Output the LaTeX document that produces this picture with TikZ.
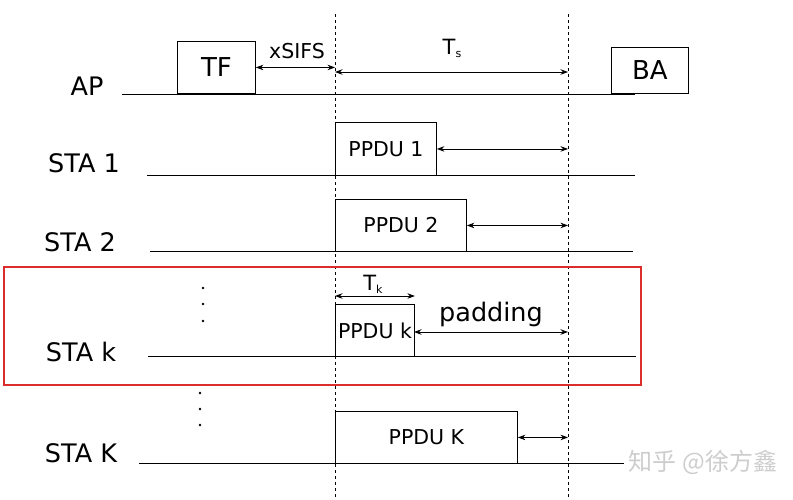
\documentclass[tikz,border=0pt]{standalone}
\usepackage{fontspec}
\setmainfont{DejaVu Sans}
\newfontfamily\cjk{Noto Sans CJK SC}
\usetikzlibrary{arrows.meta}
\definecolor{hlred}{RGB}{220,45,45}
\definecolor{wm}{RGB}{205,205,205}
\begin{document}
\begin{tikzpicture}[x=1pt,y=-1pt,
  lbl/.style={font=\fontsize{25.5}{27}\selectfont, inner sep=0},
  frame/.style={draw, line width=0.9pt, inner sep=0, anchor=north west},
  ppdu/.style={frame, font=\fontsize{20.5}{22}\selectfont},
  dim/.style={line width=0.8pt, {Stealth[length=7.5pt,width=5.5pt]}-{Stealth[length=7.5pt,width=5.5pt]}},
  vdash/.style={line width=0.8pt, dash pattern=on 3pt off 3pt},
  axis/.style={line width=0.9pt},
  dot/.style={circle, fill, inner sep=0, minimum size=2.6pt}]
\useasboundingbox (0,0) rectangle (793,499);
% vertical dashed reference lines
\coordinate (v1t) at (335,14);
\coordinate (v1b) at (335,499);
\coordinate (v2t) at (568,14);
\coordinate (v2b) at (568,499);
\draw[vdash] (v1t) -- (v1b);
\draw[vdash] (v2t) -- (v2b);
% AP row
\node[lbl] (ap) at (87,86) {AP};
\coordinate (apL) at (122,94);
\coordinate (apR) at (635,94);
\draw[axis] (apL) -- (apR);
\node[frame, minimum width=78pt, minimum height=52pt, font=\fontsize{26}{27}\selectfont] (tf) at (177,41) {TF};
\node[frame, minimum width=77pt, minimum height=46pt, font=\fontsize{26}{27}\selectfont] (ba) at (611,47) {BA};
\draw[dim] (tf.east) -- (tf.east -| v1t);
\node[font=\fontsize{20.5}{22}\selectfont, inner sep=0] (xs) at (297,51) {xSIFS};
\coordinate (tsL) at (335,72);
\draw[dim] (tsL) -- (tsL -| v2t);
\node[font=\fontsize{21}{22}\selectfont, inner sep=0] (ts) at (452,48) {T\raisebox{-3pt}{\fontsize{11}{11}\selectfont s}};
% STA 1
\node[lbl] (s1) at (84,163) {STA 1};
\coordinate (s1L) at (147,175);
\coordinate (s1R) at (635,175);
\draw[axis] (s1L) -- (s1R);
\node[ppdu, minimum width=101pt, minimum height=53pt] (p1) at (335,122) {PPDU 1};
\draw[dim] (p1.east) -- (p1.east -| v2t);
% STA 2
\node[lbl] (s2) at (80,242) {STA 2};
\coordinate (s2L) at (150,251);
\coordinate (s2R) at (633,251);
\draw[axis] (s2L) -- (s2R);
\node[ppdu, minimum width=131pt, minimum height=52pt] (p2) at (335,199) {PPDU 2};
\draw[dim] (p2.east) -- (p2.east -| v2t);
% highlight box
\node[draw=hlred, line width=2pt, inner sep=0, anchor=north west, minimum width=637pt, minimum height=118pt] (hl) at (3,266) {};
% dots
\node[dot] (d1) at (203,288) {};
\node[dot] (d2) at (203,304) {};
\node[dot] (d3) at (203,321) {};
% STA k
\node[lbl] (sk) at (81,352) {STA k};
\coordinate (skL) at (148,356);
\coordinate (skR) at (636,356);
\draw[axis] (skL) -- (skR);
\node[ppdu, minimum width=79pt, minimum height=52pt] (pk) at (335,304) {PPDU k};
\draw[dim] ([yshift=8pt]pk.north west) -- ([yshift=8pt]pk.north east);
\node[font=\fontsize{21}{22}\selectfont, inner sep=0] (tk) at (373,284) {T\raisebox{-3pt}{\fontsize{11}{11}\selectfont k}};
\coordinate (padL) at (414,332);
\draw[dim] (padL) -- (padL -| v2t);
\node[font=\fontsize{25.5}{27}\selectfont, inner sep=0] (pad) at (491,314) {padding};
% dots
\node[dot] (d4) at (200,393) {};
\node[dot] (d5) at (200,409) {};
\node[dot] (d6) at (200,425) {};
% STA K
\node[lbl] (sK) at (81,453) {STA K};
\coordinate (sKL) at (139,463);
\coordinate (sKR) at (624,463);
\draw[axis] (sKL) -- (sKR);
\node[ppdu, minimum width=182pt, minimum height=52pt] (pK) at (335,411) {PPDU K};
\draw[dim] (pK.east) -- (pK.east -| v2t);
% watermark
\node[text=wm, font=\cjk\fontsize{24}{24}\selectfont, inner sep=0] (wmk) at (703,462) {知乎 @徐方鑫};
\end{tikzpicture}
\end{document}
